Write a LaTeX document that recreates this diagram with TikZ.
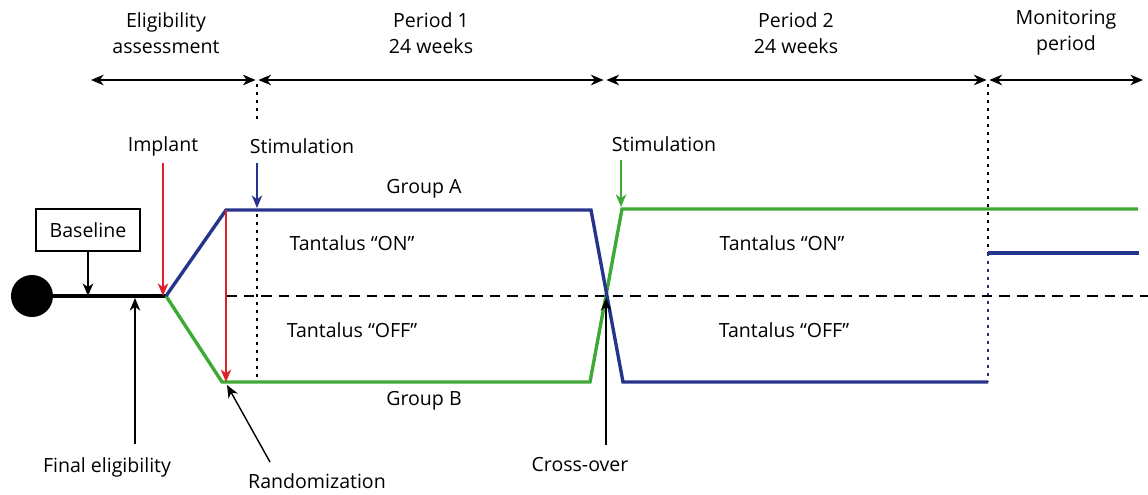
\documentclass[tikz,border=0pt]{standalone}
\usepackage{fontspec}
\setmainfont{Open Sans}
\usepackage{tikz}
\usetikzlibrary{arrows.meta,positioning}
\definecolor{grpblue}{RGB}{38,52,139}
\definecolor{grpgreen}{RGB}{62,170,54}
\definecolor{markred}{RGB}{222,32,42}
\tikzset{>={Stealth[length=9pt,width=7.5pt,inset=2.8pt]}}
\tikzset{lbl/.style={font=\fontsize{13.9pt}{18.5pt}\selectfont,align=center,inner sep=2pt},
         box node/.style={lbl,draw,line width=1pt,minimum width=2.6cm,minimum height=1.05cm},
         span arrow/.style={<->,line width=1pt},
         pointer/.style={->,line width=1pt},
         grp line/.style={line width=2.4pt,line join=miter},
         dots/.style={line width=2pt,dash pattern=on 2pt off 3.7pt},
            }

\begin{document}
\begin{tikzpicture}[x=0.025cm,y=-0.025cm]
    \useasboundingbox (0,0) rectangle (1148,494);

    % phases on top
    \node[lbl] (elig) at (166,33) {Eligibility\\assessment};
    \node[lbl] (per1) at (431,33) {Period 1\\24 weeks};
    \node[lbl] (per2) at (796,33) {Period 2\\24 weeks};
    \node[lbl] (moni) at (1066,33) {Monitoring\\period};

    \coordinate (t0) at (91,80);
    \coordinate (t1) at (257,80);
    \coordinate (t2) at (605,80);
    \coordinate (t3) at (988,80);
    \coordinate (t4) at (1143,80);
    \draw[span arrow,shorten >=1pt] (t0) -- (t1);
    \draw[span arrow,shorten <=1pt,shorten >=1pt] (t1) -- (t2);
    \draw[span arrow,shorten <=1pt,shorten >=1pt] (t2) -- (t3);
    \draw[span arrow,shorten <=1pt] (t3) -- (t4);

    % timeline
    \node[circle,fill=black,minimum size=1.05cm,inner sep=0pt] (start) at (32,296) {};
    \coordinate (split) at (166,296);
    \draw[line width=2.4pt] (start) -- (split);

    \coordinate (a1) at (226,210);
    \coordinate (a2) at (591,210);
    \coordinate (a3) at (623,382);
    \coordinate (a4) at (988,382);
    \coordinate (a5) at (988,253);
    \coordinate (a6) at (1139,253);
    \coordinate (b1) at (222,382);
    \coordinate (b2) at (590,382);
    \coordinate (b3) at (622,209);
    \coordinate (b4) at (1138,209);

    \draw[dots] (t1) ++(0,4) -- (257,122);
    \draw[dots] (257,214) -- (257,382);
    \draw[dots] (t3) ++(0,4) -- (a5);
    \draw[dots,grpblue,line width=1.6pt] (a5) -- (a4);
    \draw[line width=2pt,dash pattern=on 7.5pt off 5pt] (226,296) -- (1148,296);

    \draw[grp line,grpgreen] (split) -- (b1) -- (b2) -- (b3) -- (b4);
    \draw[grp line,grpblue] (split) -- (a1) -- (a2) -- (a3) -- (a4);
    \draw[grp line,grpblue] (a5) -- (a6);

    \node[lbl] (grpa) at (424,189) {Group A};
    \node[lbl] (grpb) at (424,401) {Group B};
    \node[lbl] (on1) at (352,243) {Tantalus “ON”};
    \node[lbl] (off1) at (352,330) {Tantalus “OFF”};
    \node[lbl] (on2) at (782,243) {Tantalus “ON”};
    \node[lbl] (off2) at (784,330) {Tantalus “OFF”};

    % events
    \node[box node] (base) at (88,230) {Baseline};
    \draw[pointer] (base) -- (base |- split);

    \node[lbl] (impl) at (163,146) {Implant};
    \draw[pointer,markred,shorten <=3pt] (impl) -- (impl |- split);
    \draw[pointer,markred] (a1) -- (a1 |- b1);

    \node[lbl] (stim1) at (302,146) {Stimulation};
    \draw[pointer,grpblue] (257,163) -- (257,208);
    \node[lbl] (stim2) at (664,144) {Stimulation};
    \draw[pointer,grpgreen] (621,160) -- (621,207);

    \node[lbl] (fin) at (107,467) {Final eligibility};
    \coordinate (fe) at (135,298);
    \draw[pointer,shorten <=7pt] (fe |- fin.north) -- (fe);

    \node[lbl] (rand) at (317,481) {Randomization};
    \coordinate (rt) at (270,462);
    \draw[pointer] (rt) -- (227,385);

    \node[lbl] (cross) at (580,465) {Cross-over};
    \coordinate (co) at (606,298);
    \draw[pointer,shorten <=7pt] (co |- cross.north) -- (co);

\end{tikzpicture}
\end{document}
